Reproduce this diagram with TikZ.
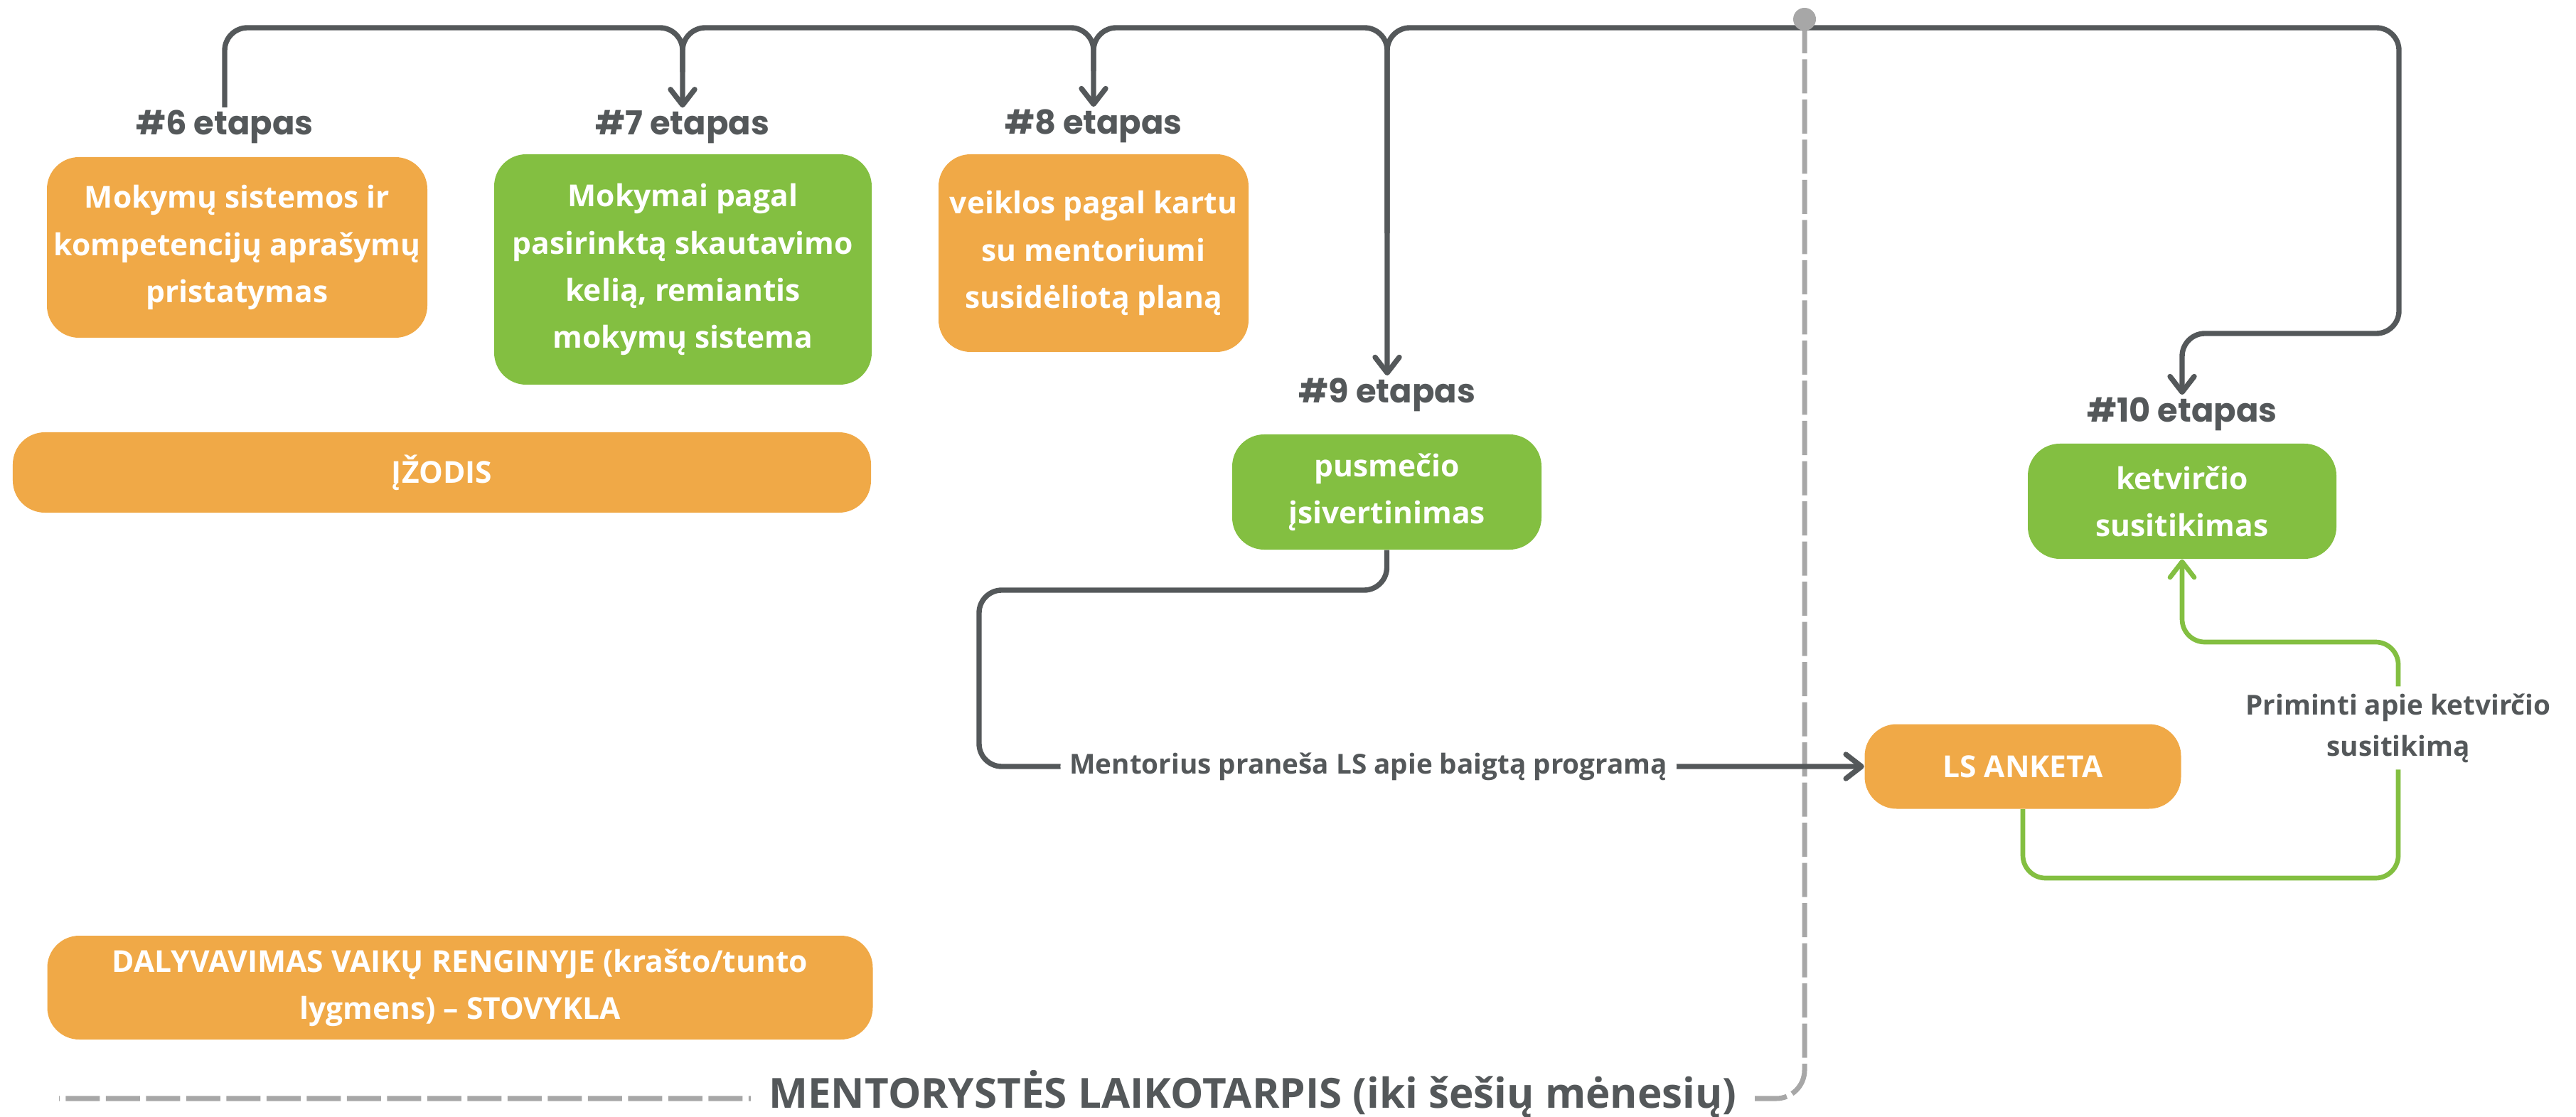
\documentclass[tikz,border=0pt]{standalone}
\usepackage{fontspec}
\setmainfont{Open Sans}
\newfontfamily\stagefont{Poppins}
\usepackage{tikz}
\usetikzlibrary{arrows.meta, positioning}
\usepackage{xcolor}
\definecolor{boxorange}{HTML}{F0A947}
\definecolor{boxgreen}{HTML}{83BF41}
\definecolor{linegray}{HTML}{54585A}
\definecolor{dashgray}{HTML}{A7A7A7}
\tikzset{%
	stage box/.style={
		rectangle,
		rounded corners=0.45cm,
		inner sep=0pt,
		text=white,
		align=center,
		font=\bfseries\fontsize{12.1}{18.8}\selectfont
	},
	orange box/.style={stage box, fill=boxorange},
	green box/.style={stage box, fill=boxgreen},
	stage label/.style={
		anchor=base,
		inner sep=1pt,
		text=linegray,
		font=\stagefont\bfseries\fontsize{13.2}{16}\selectfont
	},
	flow/.style={
		draw=linegray,
		line width=2.1pt,
		rounded corners=0.32cm
	},
	green flow/.style={flow, draw=boxgreen, line width=1.9pt},
	flow label/.style={
		fill=white,
		text=linegray,
		inner xsep=0.13cm,
		align=center,
		font=\bfseries\fontsize{11}{16.5}\selectfont
	},
	period line/.style={
		draw=dashgray,
		line width=2pt,
		dash pattern=on 0.48cm off 0.085cm,
		rounded corners=0.4cm
	},
}

\begin{document}
\begin{tikzpicture}[>={Straight Barb[length=2.2mm, width=3.4mm, round]}]
			\useasboundingbox (0,0) rectangle (36.23,-15.71);
			
			% Stage boxes
			\node[orange box, minimum width=5.35cm, minimum height=2.54cm] (box6) at (3.335,-3.48) {Mokymų sistemos ir\\kompetencijų aprašymų\\pristatymas};
			\node[green box, minimum width=5.31cm, minimum height=3.24cm] (box7) at (9.605,-3.79) {Mokymai pagal\\pasirinktą skautavimo\\kelią, remiantis\\mokymų sistema};
			\node[orange box, minimum width=4.36cm, minimum height=2.78cm] (box8) at (15.38,-3.56) {veiklos pagal kartu\\su mentoriumi\\susidėliotą planą};
			\node[orange box, minimum width=12.07cm, minimum height=1.13cm] (oath) at (6.215,-6.645) {ĮŽODIS};
			\node[green box, minimum width=4.35cm, minimum height=1.62cm] (box9) at (19.505,-6.92) {pusmečio\\įsivertinimas};
			\node[green box, minimum width=4.34cm, minimum height=1.62cm] (box10) at (30.69,-7.05) {ketvirčio\\susitikimas};
			\node[orange box, minimum width=4.45cm, minimum height=1.19cm] (survey) at (28.45,-10.78) {LS ANKETA};
			\node[orange box, minimum width=11.61cm, minimum height=1.46cm] (camp) at (6.47,-13.89) {DALYVAVIMAS VAIKŲ RENGINYJE (krašto/tunto\\lygmens) – STOVYKLA};
			
			% Stage labels
			\node[stage label] (lab6) at (3.16,-1.90) {\#6 etapas};
			\node[stage label] (lab7) at (9.60,-1.90) {\#7 etapas};
			\node[stage label] (lab8) at (15.38,-1.89) {\#8 etapas};
			\node[stage label] (lab9) at (19.51,-5.67) {\#9 etapas};
			\node[stage label] (lab10) at (30.69,-5.94) {\#10 etapas};
			
			% Mentoring period
			\coordinate (pin) at (25.38,-0.27);
			\coordinate (dashend) at (0.83,-15.45);
			\draw[period line] (pin) |- (dashend);
			
			% Top line
			\coordinate (top) at (0,-0.39);
			\coordinate (turn) at (33.74,-4.69);
			\draw[flow, ->] (lab6.north) |- (top -| lab7.north) -- (lab7.north);
			\draw[flow, ->] ([yshift=0.5cm]lab7.north) |- (top -| lab8.north) -- (lab8.north);
			\draw[flow, ->] ([yshift=0.5cm]lab8.north) |- (top -| lab9.north) -- (lab9.north);
			\draw[flow, ->] ([yshift=2cm]lab9.north) |- (top -| turn) -- (turn) -| (lab10.north);
			
			% Lower connectors
			\coordinate (drop9) at (13.77,-8.30);
			\draw[flow, ->] (box9.south) |- (drop9) -- (drop9 |- survey.west) -- node[flow label, pos=0.44]{Mentorius praneša LS apie baigtą programą} (survey.west);
			\coordinate (loop) at (33.73,-12.35);
			\draw[green flow, ->] (survey.south) |- (loop) -- node[flow label, pos=0.636, inner ysep=0.1cm]{Priminti apie ketvirčio\\susitikimą} (loop |- 0,-9.03) -| (box10.south);
			
			% Pin and period text
			\fill[dashgray] (pin) circle[radius=0.16cm];
			\node[anchor=base, fill=white, text=linegray, inner xsep=0.25cm, font=\bfseries\fontsize{16.6}{20}\selectfont] (period) at (17.62,-15.58) {MENTORYSTĖS LAIKOTARPIS (iki šešių mėnesių)};
			
		\end{tikzpicture}
\end{document}
